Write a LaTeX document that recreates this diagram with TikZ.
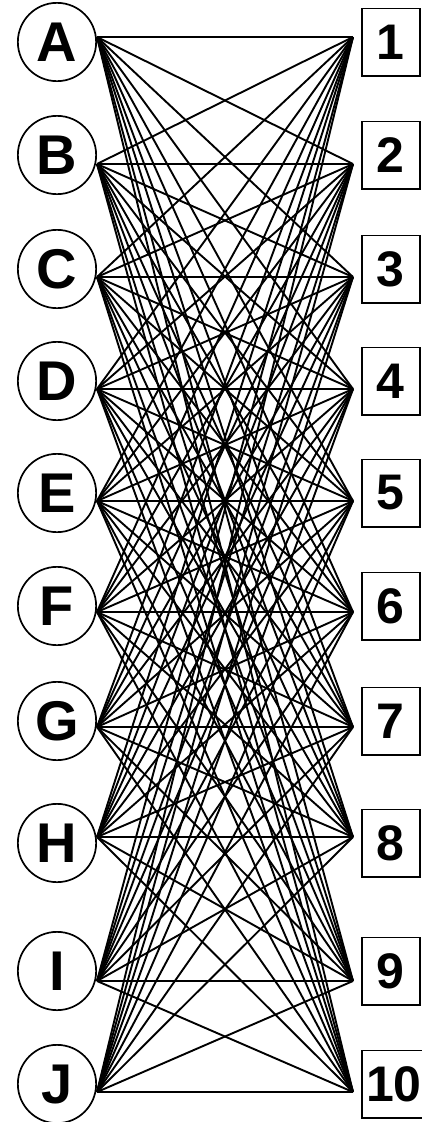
\documentclass[tikz,border=0pt]{standalone}
\usepackage{fontspec}
\setmainfont{Liberation Sans}
\begin{document}
\begin{tikzpicture}[x=1pt,y=-1pt,
  letternode/.style={circle,draw,line width=1.7pt,minimum size=78.3pt,inner sep=0pt,
    font=\fontsize{56}{60}\selectfont\bfseries},
  numnode/.style={rectangle,draw,line width=1.7pt,minimum width=58.3pt,minimum height=67.3pt,
    inner xsep=4.3pt,inner ysep=0pt,anchor=west,font=\fontsize{50}{54}\selectfont\bfseries},
  linkline/.style={line width=1.9pt}]
\useasboundingbox (0,0) rectangle (421,1122);
\foreach \n/\yc/\yl in {A/42/37,B/155/164,C/269/277,D/381/389,E/493/501,F/606/612,G/721/727,H/843/837,I/971/981,J/1084/1092}{
  \node[letternode] (c\n) at (57,\yc) {\n};
  \coordinate (p\n) at (97,\yl);
}
\foreach \n/\yc/\yl in {1/42/37,2/155/164,3/269/277,4/381/389,5/493/501,6/606/612,7/721/727,8/843/837,9/971/981,10/1084/1092}{
  \node[numnode] (b\n) at (360.85,\yc) {\n};
  \coordinate (q\n) at (353,\yl);
}
\foreach \a in {A,B,C,D,E,F,G,H,I,J}{
  \foreach \b in {1,...,10}{
    \draw[linkline] (p\a) -- (q\b);
  }
}
\end{tikzpicture}
\end{document}
